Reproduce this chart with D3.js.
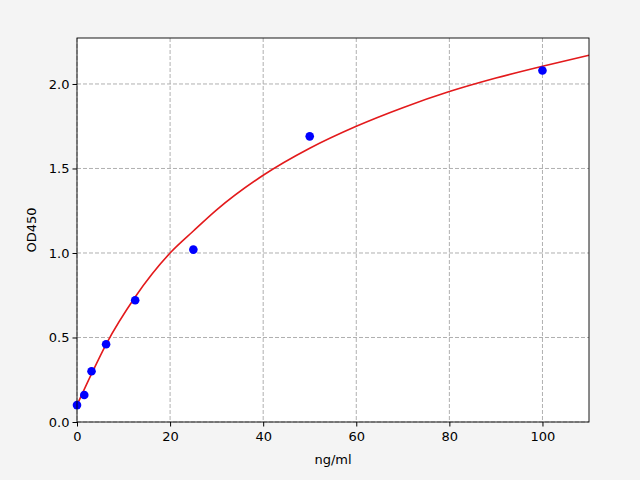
<!DOCTYPE html>
<html><head><meta charset="utf-8">
<script src="https://cdn.jsdelivr.net/npm/d3@7"></script>
<style>body{margin:0;background:#f4f4f4}text{font-family:"DejaVu Sans",sans-serif}</style>
</head><body>
<script>
const pointX=[0,1.56,3.12,6.25,12.5,25,50,100];
const pointY=[0.10,0.16,0.30,0.46,0.72,1.02,1.69,2.08];
const curveX=[0,3.12,6.25,12.5,20,25,30,40,50,60,70,80,90,100,110];
const curveY=[0.10,0.285,0.46,0.74,1.0,1.13,1.255,1.46,1.62,1.75,1.86,1.955,2.035,2.105,2.17];
const xTicks=[0,20,40,60,80,100];
const yTicks=[0,0.5,1,1.5,2];
const W=640,H=480,L=77,R=589,T=38,B=422;
const svg=d3.select("body").append("svg").attr("width",W).attr("height",H);
svg.append("rect").attr("width",W).attr("height",H).attr("fill","#f4f4f4");
svg.append("rect").attr("x",L).attr("y",T).attr("width",R-L).attr("height",B-T).attr("fill","#fff");
const x=d3.scaleLinear().domain([0,110]).range([L,R]);
const y=d3.scaleLinear().domain([0,2.272]).range([B,T]);
const g=svg.append("g");
g.selectAll(".gx").data(xTicks).join("line").attr("x1",d=>x(d)).attr("x2",d=>x(d)).attr("y1",T).attr("y2",B).attr("stroke","#b0b0b0").attr("stroke-dasharray","4,2");
g.selectAll(".gy").data(yTicks).join("line").attr("y1",d=>y(d)).attr("y2",d=>y(d)).attr("x1",L).attr("x2",R).attr("stroke","#b0b0b0").attr("stroke-dasharray","4,2");
const line=d3.line().x(d=>x(d[0])).y(d=>y(d[1])).curve(d3.curveMonotoneX);
svg.append("path").attr("d",line(curveX.map((v,i)=>[v,curveY[i]]))).attr("fill","none").attr("stroke","#e31a1c").attr("stroke-width",1.6);
svg.selectAll(".p").data(pointX).join("circle").attr("cx",d=>x(d)).attr("cy",(d,i)=>y(pointY[i])).attr("r",4.3).attr("fill","#0000ff");
svg.append("rect").attr("x",L).attr("y",T).attr("width",R-L).attr("height",B-T).attr("fill","none").attr("stroke","#000").attr("stroke-width",0.9);
svg.append("g").attr("transform",`translate(0,${B})`).call(d3.axisBottom(x).tickValues(xTicks).tickSize(4.5).tickFormat(d3.format("d"))).call(a=>{a.select(".domain").remove();a.selectAll("text").attr("font-size",13).attr("fill","#000").attr("dy","0.9em");});
svg.append("g").attr("transform",`translate(${L},0)`).call(d3.axisLeft(y).tickValues(yTicks).tickSize(4.5).tickFormat(d3.format(".1f"))).call(a=>{a.select(".domain").remove();a.selectAll("text").attr("font-size",13).attr("fill","#000");});
svg.append("text").attr("x",(L+R)/2).attr("y",464).attr("text-anchor","middle").attr("font-size",13).text("ng/ml");
svg.append("text").attr("transform",`translate(36,${(T+B)/2}) rotate(-90)`).attr("text-anchor","middle").attr("font-size",13).text("OD450");
</script></body></html>
